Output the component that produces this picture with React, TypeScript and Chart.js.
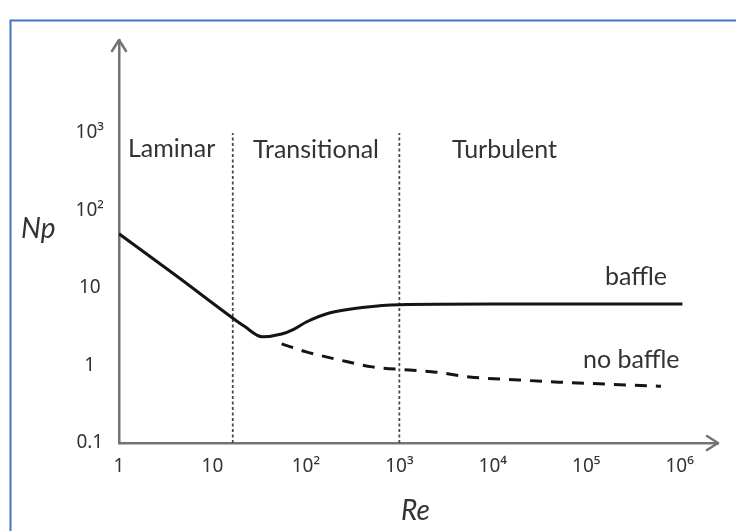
import React, { useEffect, useRef } from "react";
import { Chart, registerables } from "chart.js";

Chart.register(...registerables);

// Reynolds number ticks (log axis)
const xTickValues = [1, 10, 100, 1000, 10000, 100000, 1000000];
const xTickLabels = ["1", "10", "10²", "10³", "10⁴", "10⁵", "10⁶"];
// Power number ticks (log axis)
const yTickValues = [0.1, 1, 10, 100, 1000];
const yTickLabels = ["0.1", "1", "10", "10²", "10³"];

// baffle curve: Re, Np
const baffleRe = [1, 4, 16, 22, 34, 55, 75, 101, 178, 400, 1000, 10000, 1070000];
const baffleNp = [50, 14.7, 4.2, 3.2, 2.35, 2.55, 2.95, 3.64, 4.76, 5.6, 6.1, 6.2, 6.2];

// no baffle curve: Re, Np
const noBaffleRe = [55, 101, 228, 513, 1276, 2480, 5650, 19000, 51000, 137000, 630000];
const noBaffleNp = [1.9, 1.5, 1.18, 0.96, 0.875, 0.82, 0.71, 0.65, 0.61, 0.58, 0.54];

// regime boundaries (Re)
const boundaries = [16.5, 1000];
const boundaryNp = [0.1, 1000];

const regimeLabels = ["Laminar", "Transitional", "Turbulent"];
const curveLabels = ["baffle", "no baffle"];

const TEXT = "#333333";
const AXIS = "#737373";

const overlay = {
  id: "overlay",
  afterDraw(chart: any) {
    const ctx = chart.ctx;
    const { left, right, top, bottom } = chart.chartArea;
    ctx.save();
    // outer blue frame (screenshot border)
    ctx.strokeStyle = "#4472C4";
    ctx.lineWidth = 2;
    ctx.beginPath();
    ctx.moveTo(10.5, 531);
    ctx.lineTo(10.5, 20.5);
    ctx.lineTo(736, 20.5);
    ctx.stroke();

    // arrowheads
    ctx.strokeStyle = AXIS;
    ctx.lineWidth = 2.5;
    ctx.lineCap = "round";
    ctx.lineJoin = "round";
    ctx.beginPath();
    ctx.moveTo(left - 7, top + 11);
    ctx.lineTo(left, top);
    ctx.lineTo(left + 7, top + 11);
    ctx.stroke();
    ctx.beginPath();
    ctx.moveTo(right - 11, bottom - 7);
    ctx.lineTo(right, bottom);
    ctx.lineTo(right - 11, bottom + 7);
    ctx.stroke();

    // texts
    ctx.fillStyle = TEXT;
    ctx.textAlign = "left";
    ctx.textBaseline = "alphabetic";
    ctx.font = "25px Lato, 'DejaVu Sans', sans-serif";
    ctx.fillText(regimeLabels[0], 128, 157);
    ctx.fillText(regimeLabels[1], 253, 158);
    ctx.fillText(regimeLabels[2], 452, 158);
    ctx.fillText(curveLabels[0], 605, 285);
    ctx.fillText(curveLabels[1], 583, 368);
    ctx.font = "italic 28px Lato, 'DejaVu Sans', sans-serif";
    ctx.fillText("Np", 21, 238);
    ctx.fillText("Re", 401, 520);
    ctx.restore();
  },
};

export default function App() {
  const ref = useRef<HTMLCanvasElement | null>(null);
  useEffect(() => {
    if (!ref.current) return;
    const tickFont = { family: "'Noto Sans', 'DejaVu Sans', sans-serif", size: 19 };
    const chart = new Chart(ref.current, {
      type: "line",
      data: {
        datasets: [
          {
            label: "baffle",
            data: baffleRe.map((x, i) => ({ x, y: baffleNp[i] })),
            borderColor: "#141414",
            borderWidth: 3,
            pointRadius: 0,
            cubicInterpolationMode: "monotone",
            fill: false,
          },
          {
            label: "no baffle",
            data: noBaffleRe.map((x, i) => ({ x, y: noBaffleNp[i] })),
            borderColor: "#141414",
            borderWidth: 3,
            borderDash: [12, 9],
            pointRadius: 0,
            cubicInterpolationMode: "monotone",
            fill: false,
          },
          ...boundaries.map((b) => ({
            label: "boundary",
            data: boundaryNp.map((y) => ({ x: b, y })),
            borderColor: "#4a4a4a",
            borderWidth: 1.8,
            borderDash: [3, 2.5],
            pointRadius: 0,
            fill: false,
          })),
        ],
      },
      options: {
        animation: false,
        responsive: false,
        maintainAspectRatio: false,
        layout: { padding: { top: 40, right: 18, left: 0, bottom: 0 } },
        plugins: { legend: { display: false }, tooltip: { enabled: false } },
        scales: {
          x: {
            type: "logarithmic",
            min: 1,
            max: Math.pow(10, 6.41),
            grid: { display: false, drawTicks: false },
            border: { display: true, color: AXIS, width: 2.5 },
            afterBuildTicks: (scale: any) => {
              scale.ticks = xTickValues.map((v) => ({ value: v }));
            },
            afterFit: (scale: any) => {
              scale.height = 88;
            },
            ticks: {
              autoSkip: false,
              maxRotation: 0,
              padding: 12,
              color: TEXT,
              font: tickFont,
              callback: (v: any) => xTickLabels[xTickValues.indexOf(Number(v))] ?? "",
            },
          },
          y: {
            type: "logarithmic",
            min: 0.1,
            max: Math.pow(10, 4.2),
            grid: { display: false, drawTicks: false },
            border: { display: true, color: AXIS, width: 2.5 },
            afterBuildTicks: (scale: any) => {
              scale.ticks = yTickValues.map((v) => ({ value: v }));
            },
            afterFit: (scale: any) => {
              scale.width = 119;
            },
            ticks: {
              autoSkip: false,
              crossAlign: "center",
              padding: 15,
              color: TEXT,
              font: tickFont,
              callback: (v: any) => yTickLabels[yTickValues.indexOf(Number(v))] ?? "",
            },
          },
        },
      },
      plugins: [overlay],
    } as any);
    return () => chart.destroy();
  }, []);
  return (
    <div style={{ position: "absolute", left: 0, top: 0, width: 736, height: 531, background: "#fff" }}>
      <canvas ref={ref} width={736} height={531} style={{ display: "block" }} />
    </div>
  );
}
